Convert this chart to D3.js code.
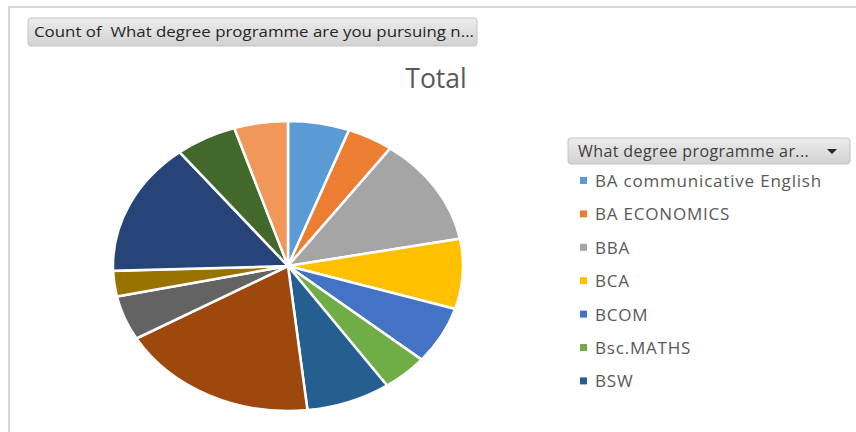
<!DOCTYPE html>
<meta charset="utf-8">
<style>
  body { margin: 0; background: #fff; }
  text { font-family: "Open Sans", "Noto Sans", sans-serif; }
</style>
<body>
<script src="https://d3js.org/d3.v7.min.js"></script>
<script>

// categories (only the first 7 are visible in the legend, the rest are cut off)
var categories = ["BA communicative English", "BA ECONOMICS", "BBA", "BCA", "BCOM", "Bsc.MATHS", "BSW",
                  "Category 8", "Category 9", "Category 10", "Category 11", "Category 12", "Category 13"];
var counts = [8, 6, 17, 11, 9, 6, 11, 26, 7, 4, 21, 8, 7];
var colors = ["#5b9bd5", "#ed7d31", "#a5a5a5", "#ffc000", "#4472c4", "#70ad47", "#255e91",
              "#9e480e", "#636363", "#997300", "#264478", "#43682b", "#f1975a"];
var legendShown = 7;

var width = 856,
    height = 432;

var svg = d3.select("body").append("svg")
    .attr("width", width)
    .attr("height", height);

var defs = svg.append("defs");
var grad = defs.append("linearGradient")
    .attr("id", "btn")
    .attr("x1", 0).attr("y1", 0).attr("x2", 0).attr("y2", 1);
grad.append("stop").attr("offset", "0%").attr("stop-color", "#ececec");
grad.append("stop").attr("offset", "100%").attr("stop-color", "#d2d2d2");

// frame
svg.append("path")
    .attr("d", "M9,432V7H856")
    .attr("fill", "none")
    .attr("stroke", "#d9d9d9")
    .attr("stroke-width", 2);

// field button top-left
svg.append("rect")
    .attr("x", 28).attr("y", 18)
    .attr("width", 449).attr("height", 28)
    .attr("rx", 3)
    .attr("fill", "url(#btn)")
    .attr("stroke", "#c4c4c4");
svg.append("text")
    .attr("x", 34).attr("y", 37)
    .attr("font-size", 14)
    .attr("fill", "#262626")
    .attr("textLength", 440)
    .attr("lengthAdjust", "spacingAndGlyphs")
    .style("white-space", "pre")
    .text("Count of  What degree programme are you pursuing n...");

// title
svg.append("text")
    .attr("x", 436).attr("y", 88)
    .attr("text-anchor", "middle")
    .attr("font-size", 26.5)
    .attr("fill", "#595959")
    .text("Total");

// pie (drawn as a circle and squashed vertically)
var cx = 288, cy = 266, rx = 175, ry = 145;

var pie = d3.pie().sort(null).value(function(d) { return d; });
var arc = d3.arc().innerRadius(0).outerRadius(rx);

var g = svg.append("g")
    .attr("transform", "translate(" + cx + "," + cy + ") scale(1," + (ry / rx) + ")");

g.selectAll("path")
    .data(pie(counts))
    .enter().append("path")
    .attr("d", arc)
    .attr("fill", function(d, i) { return colors[i]; })
    .attr("stroke", "#fff")
    .attr("stroke-width", 2.5)
    .attr("vector-effect", "non-scaling-stroke");

// legend
svg.append("rect")
    .attr("x", 568).attr("y", 138)
    .attr("width", 282).attr("height", 26)
    .attr("rx", 3)
    .attr("fill", "url(#btn)")
    .attr("stroke", "#c4c4c4");
svg.append("text")
    .attr("x", 578).attr("y", 157)
    .attr("font-size", 16)
    .attr("letter-spacing", 0.4)
    .attr("fill", "#404040")
    .text("What degree programme ar...");
svg.append("path")
    .attr("d", "M827,149h10l-5,5z")
    .attr("fill", "#262626");

var y = d3.scaleLinear().domain([0, 1]).range([181, 214.4]);

var item = svg.selectAll(".legend")
    .data(categories.slice(0, legendShown))
    .enter().append("g")
    .attr("class", "legend")
    .attr("transform", function(d, i) { return "translate(580," + y(i) + ")"; });

item.append("rect")
    .attr("x", 0).attr("y", -4)
    .attr("width", 7).attr("height", 7)
    .attr("fill", function(d, i) { return colors[i]; });

item.append("text")
    .attr("x", 15).attr("y", 6)
    .attr("font-size", 17)
    .attr("letter-spacing", 0.8)
    .attr("fill", "#595959")
    .text(function(d) { return d; });

</script>
